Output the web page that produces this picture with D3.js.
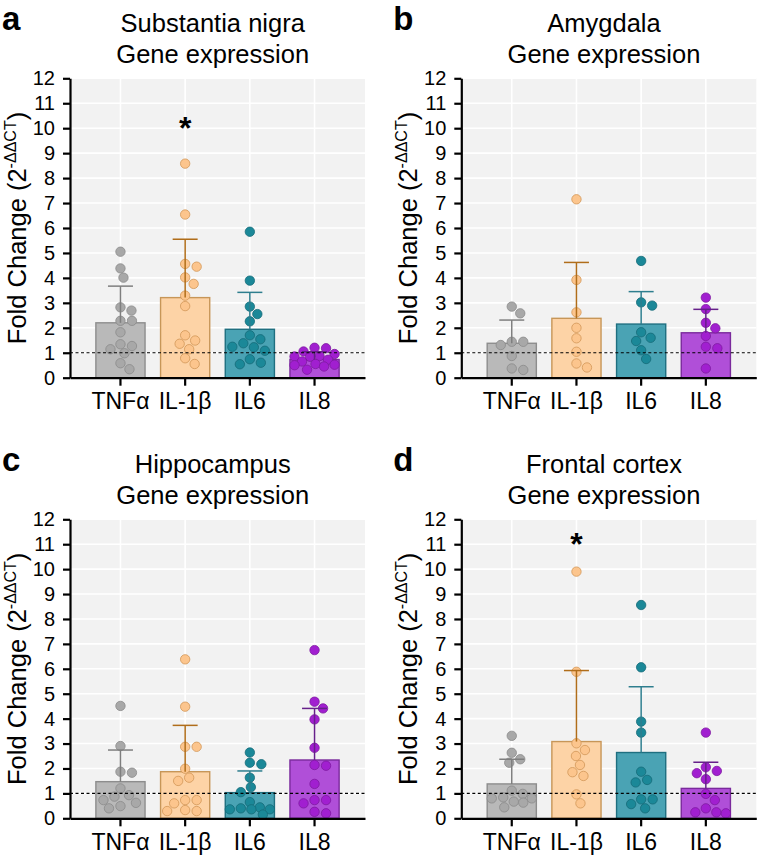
<!DOCTYPE html>
<html><head><meta charset="utf-8">
<script src="https://cdn.jsdelivr.net/npm/d3@7/dist/d3.min.js"></script>
<style>
body{margin:0;background:#fff;}
svg{display:block;font-family:Arial,"Liberation Sans",Helvetica,sans-serif;}
</style>
</head><body>
<svg id="chart" width="768" height="862"></svg>
<script>
// ---------- DATA ----------
const categories = ["TNFα", "IL-1β", "IL6", "IL8"];
const yTicks = [0,1,2,3,4,5,6,7,8,9,10,11,12];
const panelLetters = ["a", "b", "c", "d"];
const panelTitles = ["Substantia nigra", "Amygdala", "Hippocampus", "Frontal cortex"];
const subtitle = "Gene expression";
const referenceLevel = 1;

// Panel a – Substantia nigra
const pointsA = [
  [5.05,4.38,4.01,2.82,2.69,2.28,2.28,1.82,1.34,1.27,1.14,0.98,0.58,0.34],
  [8.58,6.54,4.56,4.45,4.02,3.76,3.29,2.87,1.70,1.49,1.36,1.14,0.78,0.55],
  [5.85,3.89,2.85,2.55,2.26,1.70,1.54,1.38,1.24,1.22,1.08,0.74,0.60,0.54],
  [1.20,1.18,1.05,0.95,0.87,0.85,0.84,0.72,0.65,0.55,0.52,0.50,0.45,0.32]
];
const meansA = [2.20, 3.21, 1.94, 0.73];
const errTopA = [3.67, 5.55, 3.42, 1.04];

// Panel b – Amygdala
const pointsB = [
  [2.85,2.58,1.44,1.44,1.31,0.87,0.37,0.31],
  [7.15,3.92,2.62,2.00,1.58,1.04,0.57,0.41],
  [4.68,3.02,2.89,1.82,1.60,1.47,1.10,0.75],
  [3.21,2.75,2.20,1.98,1.67,1.24,1.18,0.37]
];
const meansB = [1.38, 2.38, 2.15, 1.80];
const errTopB = [2.31, 4.62, 3.45, 2.74];

// Panel c – Hippocampus
const pointsC = [
  [4.51,2.90,1.87,1.83,1.20,0.93,0.87,0.73,0.62,0.49,0.40],
  [6.38,4.48,2.87,2.87,1.99,1.63,1.50,0.73,0.73,0.60,0.33,0.29,0.29],
  [2.64,2.23,2.17,1.63,1.25,1.05,0.65,0.44,0.40,0.36,0.36,0.36,0.15],
  [6.75,4.68,4.41,3.97,2.83,2.14,2.11,1.38,0.73,0.73,0.60,0.26,0.20]
];
const meansC = [1.47, 1.87, 1.03, 2.34];
const errTopC = [2.74, 3.73, 1.90, 4.41];

// Panel d – Frontal cortex
const pointsD = [
  [3.31,2.63,2.37,2.23,1.11,0.98,0.84,0.80,0.80,0.67,0.63,0.44],
  [9.90,5.88,3.01,2.74,2.50,2.14,1.85,1.70,0.96,0.60],
  [8.56,6.06,3.88,3.44,1.87,1.54,1.44,0.76,0.76,0.57,0.40],
  [3.44,2.05,1.90,1.81,1.57,0.98,0.73,0.40,0.24,0.24,0.20]
];
const meansD = [1.38, 3.08, 2.64, 1.20];
const errTopD = [2.37, 5.93, 5.28, 2.25];

// significance marks
const sigPanels = [0, 3];
const sigCategory = ["IL-1β", "IL-1β"];
const sigLevel = [10.15, 11.15];

// ---------- STYLE ----------
const barFill   = ["#b9b9b9", "#fdd3a6", "#4aa3b4", "#b04fd8"];
const barStroke = ["#8d8d8d", "#c79658", "#1f6f80", "#7a2a9c"];
const ptFill    = ["#a8a8a8", "#fcc58d", "#1b8898", "#a11fd0"];
const ptStroke  = ["#8a8a8a", "#d29758", "#156b78", "#7d1aa0"];
const errColor  = ["#7f7f7f", "#b06d1a", "#2e7e8e", "#66208a"];

const svg = d3.select("#chart");
const W = 295;
const layout = [
  {ox: 70,    top: 78.3,  bottom: 377.7},
  {ox: 461.3, top: 78.3,  bottom: 377.7},
  {ox: 70,    top: 519.3, bottom: 818.3},
  {ox: 461.3, top: 519.3, bottom: 818.3}
];
const allPoints = [pointsA, pointsB, pointsC, pointsD];
const allMeans = [meansA, meansB, meansC, meansD];
const allErr = [errTopA, errTopB, errTopC, errTopD];

// GraphPad-like scatter spreading within the bar: elliptical collision, bounded width
function beeswarm(vals, cx, y, Dx, Dy, maxOff) {
  const placed = [];
  const order = vals.map((v,i)=>i).sort((a,b)=>vals[b]-vals[a]);
  order.forEach(i => {
    const py = y(vals[i]);
    let best = 0, bestScore = -1;
    const steps = Math.floor(maxOff / 0.5);
    for (let k = 0; k <= 2*steps; k++) {
      const cand = k === 0 ? 0 : (k % 2 ? 1 : -1) * Math.ceil(k/2) * 0.5;
      let minD = Infinity;
      placed.forEach(p => { minD = Math.min(minD, ((p.x - (cx+cand))/Dx)**2 + ((p.y-py)/Dy)**2); });
      if (minD >= 1) { best = cand; bestScore = 99; break; }
      if (minD > bestScore) { bestScore = minD; best = cand; }
    }
    placed.push({x: cx+best, y: py, v: vals[i]});
  });
  return placed;
}

layout.forEach((L, pi) => {
  const g = svg.append("g");
  const y = d3.scaleLinear().domain([0,12]).range([L.bottom, L.top]);
  const x = d3.scaleBand().domain(categories).range([L.ox, L.ox+W]).paddingInner(0.24).paddingOuter(0.4);
  const cx = c => x(c) + x.bandwidth()/2;

  g.append("rect").attr("x", L.ox).attr("y", L.top).attr("width", W).attr("height", L.bottom-L.top).attr("fill", "#f2f2f2");
  g.selectAll(".hg").data(yTicks.slice(1)).join("line")
    .attr("x1", L.ox).attr("x2", L.ox+W).attr("y1", d=>y(d)).attr("y2", d=>y(d))
    .attr("stroke", "#ffffff").attr("stroke-width", 1.6);
  g.selectAll(".vg").data(categories).join("line")
    .attr("x1", d=>cx(d)).attr("x2", d=>cx(d)).attr("y1", L.top).attr("y2", L.bottom)
    .attr("stroke", "#ffffff").attr("stroke-width", 1.6);

  const means = allMeans[pi];
  g.selectAll(".bar").data(categories).join("rect")
    .attr("x", d=>x(d)).attr("width", x.bandwidth())
    .attr("y", (d,i)=>y(means[i])).attr("height", (d,i)=>y(0)-y(means[i]))
    .attr("fill", (d,i)=>barFill[i]).attr("stroke", (d,i)=>barStroke[i]).attr("stroke-width", 1.4);

  categories.forEach((c, ci) => {
    const pts = beeswarm(allPoints[pi][ci], cx(c), y, 11.5, 9.5, 20);
    g.selectAll(".pt"+ci).data(pts).join("circle")
      .attr("cx", d=>d.x).attr("cy", d=>d.y).attr("r", 4.7)
      .attr("fill", ptFill[ci]).attr("stroke", ptStroke[ci]).attr("stroke-width", 0.8);
  });

  const err = allErr[pi];
  categories.forEach((c, ci) => {
    g.append("line").attr("x1", cx(c)).attr("x2", cx(c)).attr("y1", y(means[ci])).attr("y2", y(err[ci]))
      .attr("stroke", errColor[ci]).attr("stroke-width", 1.5);
    g.append("line").attr("x1", cx(c)-12.5).attr("x2", cx(c)+12.5).attr("y1", y(err[ci])).attr("y2", y(err[ci]))
      .attr("stroke", errColor[ci]).attr("stroke-width", 1.5);
  });

  g.append("line").attr("x1", L.ox).attr("x2", L.ox+W).attr("y1", y(referenceLevel)).attr("y2", y(referenceLevel))
    .attr("stroke", "#000").attr("stroke-width", 1.2).attr("stroke-dasharray", "3,2.5");

  const ya = g.append("g").attr("transform", `translate(${L.ox},0)`)
    .call(d3.axisLeft(y).tickValues(yTicks).tickSize(7).tickSizeOuter(0).tickPadding(8));
  const xa = g.append("g").attr("transform", `translate(0,${L.bottom})`)
    .call(d3.axisBottom(x).tickSize(8).tickSizeOuter(0).tickPadding(5));
  [ya, xa].forEach(a => {
    a.select(".domain").attr("stroke", "#000").attr("stroke-width", 2.2);
    a.selectAll(".tick line").attr("stroke", "#000").attr("stroke-width", 2.2);
    a.selectAll("text").attr("fill", "#000").style("font-family", "Arial, 'Liberation Sans', sans-serif");
  });
  ya.selectAll("text").style("font-size", "20px");
  xa.selectAll("text").style("font-size", "23px").attr("dy", "0.8em");

  const yl = g.append("text")
    .attr("transform", `translate(${L.ox-44},${(L.top+L.bottom)/2}) rotate(-90)`)
    .attr("text-anchor", "middle").style("font-size", "25.5px").attr("fill", "#000");
  yl.append("tspan").text("Fold Change (2");
  yl.append("tspan").text("-ΔΔCT").style("font-size", "16px").attr("dy", "-10");
  yl.append("tspan").text(")").attr("dy", "10");

  g.append("text").attr("x", L.ox+142.7).attr("y", L.top-46).attr("text-anchor", "middle")
    .style("font-size", "25.5px").text(panelTitles[pi]);
  g.append("text").attr("x", L.ox+142.7).attr("y", L.top-15).attr("text-anchor", "middle")
    .style("font-size", "25.5px").text(subtitle);
  g.append("text").attr("x", L.ox-68).attr("y", L.top-48).style("font-size", "33px")
    .style("font-weight", "bold").text(panelLetters[pi]);

  sigPanels.forEach((sp, si) => {
    if (sp !== pi) return;
    g.append("text").attr("x", cx(sigCategory[si])).attr("y", y(sigLevel[si]) + 15)
      .attr("text-anchor", "middle").style("font-size", "32px").style("font-weight", "bold").text("*");
  });
});
</script>
</body></html>
